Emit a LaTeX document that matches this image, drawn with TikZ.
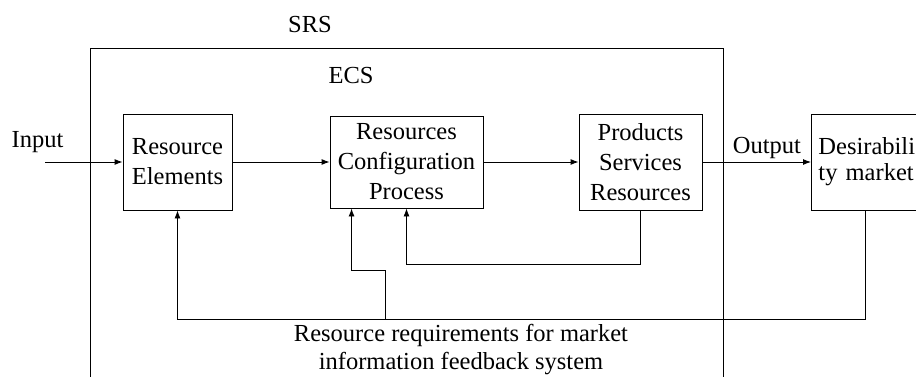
\documentclass[tikz,border=0pt]{standalone}
\usepackage{fontspec}
\setmainfont{Liberation Serif}
\usetikzlibrary{arrows.meta, calc}

\tikzset{
  blk/.style={draw, line width=0.9pt, align=center, inner sep=2pt, font=\fontsize{24.5}{30}\selectfont},
  lbl/.style={font=\fontsize{24.5}{28}\selectfont, inner sep=0pt},
}

\begin{document}
\begin{tikzpicture}[x=1pt, y=-1pt, line width=0.9pt, >={Latex[length=8pt,width=6pt]}]
\useasboundingbox (0,0) rectangle (916,376);
\clip (0,0) rectangle (916,376);
% outer system boundary
\draw (90,380) -- (90,48) -- (723,48) -- (723,380);
\node[lbl, anchor=base] (srs) at (310,32) {SRS};
\node[lbl, anchor=base] (ecs) at (351,83) {ECS};
% blocks
\node[blk, minimum width=109pt, minimum height=96pt] (elem) at (177.5,162) {Resource\\Elements};
\node[blk, minimum width=153pt, minimum height=92pt] (config) at (406.5,162) {Resources\\Configuration\\Process};
\node[blk, minimum width=123pt, minimum height=96pt] (prod) at (640.5,162) {Products\\Services\\Resources};
\node[blk, anchor=west, text width=140pt, align=left, inner sep=7pt, minimum height=96pt,
      font=\fontsize{24.5}{26}\selectfont] (market) at (811,162) {Desirabili\\ty market};
% in / out
\coordinate (inp) at (45,162);
\node[lbl, anchor=base] (intext) at (37.5,147) {Input};
\node[lbl, anchor=base] (outtext) at (767,153) {Output};
\draw[->] (inp) -- (elem.west);
\draw[->] (elem.east) -- (config.west);
\draw[->] (config.east) -- (prod.west);
\draw[->] (prod.east) -- (market.west);
% feedback
\coordinate (low) at (0,319);
\coordinate (tap) at (385,319);
\coordinate (tapin) at ($(config.south west)+(22,0)$);
\draw[->] (prod.south) -- ++(0,54) -| (config.south);
\draw[->] ($(market.south west)+(54,0)$) |- (elem.south |- low) -- (elem.south);
\draw[->] (tap) -- ++(0,-49) -| (tapin);
\node[lbl, align=center] (fbtext) at (461,350) {Resource requirements for market\\information feedback system};
\end{tikzpicture}
\end{document}
